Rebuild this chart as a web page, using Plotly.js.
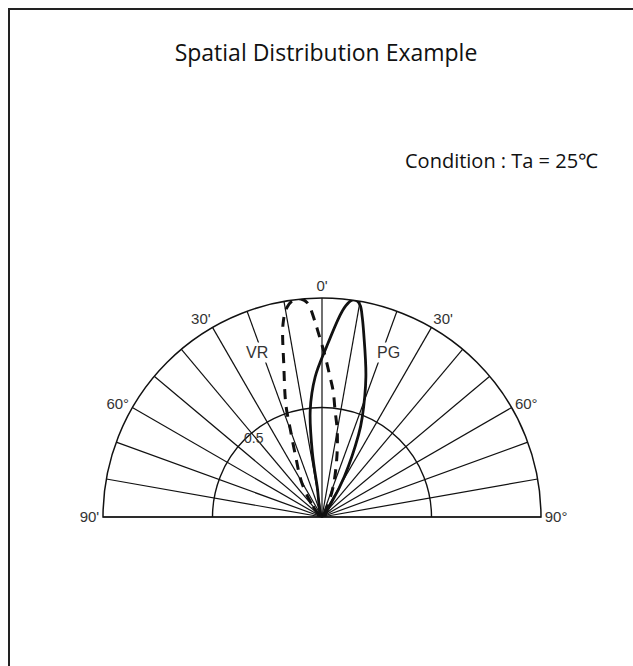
<!DOCTYPE html>
<html>
<head>
<meta charset="utf-8">
<script src="https://cdn.plot.ly/plotly-3.0.1.min.js"></script>
<style>
  html, body { margin: 0; padding: 0; background: #fff; }
  #wrap { position: relative; width: 633px; height: 666px; }
  #chart { position: absolute; left: 0; top: 0; width: 633px; height: 666px; }
  #frame { position: absolute; left: 8px; top: 8px; width: 640px; height: 680px;
           border-left: 2px solid #222; border-top: 2px solid #222; pointer-events: none; }
</style>
</head>
<body>
<div id="wrap"><div id="chart"></div><div id="frame"></div></div>
<script>
// Angular grid (degrees from vertical, negative = left)
const gridAngles = [-90, -80, -70, -60, -50, -40, -30, -20, -10, 0, 10, 20, 30, 40, 50, 60, 70, 80, 90];
const gridLabels = ["90'", "", "", "60°", "", "", "30'", "", "", "0'", "", "", "30'", "", "", "60°", "", "", "90°"];
const radialTicks = [0.5, 1.0];
const radialLabel = "0.5";

// VR (dashed) relative intensity vs angle
const vrTheta = [-45, -38, -30, -24, -20, -17.8, -14.2, -11.4, -9.5, -7.4, -5.5, -3.9, -2, -1.3, 1, 3.3, 5, 7, 10, 14, 20, 27, 35];
const vrR     = [0.0, 0.08, 0.19, 0.29, 0.42, 0.54, 0.71, 0.90, 0.97, 1.0, 1.0, 0.98, 0.89, 0.85, 0.74, 0.64, 0.58, 0.49, 0.40, 0.28, 0.15, 0.05, 0.0];

// PG (solid) relative intensity vs angle
const pgTheta = [-12, -9, -8.5, -6.3, -2.8, 1.6, 5, 6.4, 7.9, 9.2, 10.3, 11.4, 12.8, 17.4, 22, 24, 29, 33, 37];
const pgR     = [0.0, 0.14, 0.30, 0.49, 0.64, 0.78, 0.92, 0.97, 1.0, 1.0, 0.98, 0.93, 0.86, 0.67, 0.49, 0.41, 0.21, 0.08, 0.0];

const traces = [
  {
    type: 'scatterpolar', mode: 'lines', name: 'VR',
    theta: vrTheta, r: vrR,
    line: { color: '#111', width: 3, dash: '10px,8px', shape: 'spline' },
    showlegend: false, hoverinfo: 'skip'
  },
  {
    type: 'scatterpolar', mode: 'lines', name: 'PG',
    theta: pgTheta, r: pgR,
    line: { color: '#111', width: 2.8, shape: 'spline' },
    showlegend: false, hoverinfo: 'skip'
  }
];

const W = 633, H = 666;
const cx = 322, cy = 517, R = 219;
const labelFont = { family: 'Liberation Sans, Arial, sans-serif', size: 15, color: '#333' };

const layout = {
  width: W, height: H, autosize: false,
  margin: { l: 0, r: 0, t: 0, b: 0, pad: 0 },
  paper_bgcolor: '#fff',
  showlegend: false,
  title: {
    text: 'Spatial Distribution Example',
    font: { family: 'Open Sans, sans-serif', size: 23, color: '#111' },
    x: 326 / W, xanchor: 'center', xref: 'paper', y: 1 - 53 / H, yanchor: 'middle', yref: 'paper'
  },
  polar: {
    domain: { x: [(cx - R) / W, (cx + R) / W], y: [1 - cy / H, 1 - (cy - R) / H] },
    sector: [0, 180],
    bgcolor: '#fff',
    angularaxis: {
      rotation: 90, direction: 'clockwise',
      tickmode: 'array', tickvals: gridAngles, ticktext: gridLabels,
      ticks: '', showline: true, linecolor: '#111', linewidth: 1.5,
      showgrid: true, gridcolor: '#111', gridwidth: 1.2,
      tickfont: labelFont
    },
    radialaxis: {
      range: [0, 1],
      tickmode: 'array', tickvals: radialTicks, showticklabels: false,
      ticks: '', showline: false,
      showgrid: true, gridcolor: '#111', gridwidth: 1.4
    }
  },
  annotations: [
    { text: 'Condition : Ta = 25℃', xref: 'paper', yref: 'paper',
      x: 600 / W, y: 1 - 160 / H, xanchor: 'right', yanchor: 'middle', showarrow: false,
      font: { family: 'Open Sans, sans-serif', size: 20, color: '#111' } },
    { text: radialLabel, xref: 'paper', yref: 'paper',
      x: 254 / W, y: 1 - 438 / H, xanchor: 'center', yanchor: 'middle', showarrow: false,
      font: { family: 'Liberation Sans, Arial, sans-serif', size: 14, color: '#333' } },
    { text: 'VR', xref: 'paper', yref: 'paper',
      x: 257 / W, y: 1 - 352 / H, xanchor: 'center', yanchor: 'middle', showarrow: false,
      bgcolor: '#fff',
      font: { family: 'Liberation Sans, Arial, sans-serif', size: 16, color: '#333' } },
    { text: 'PG', xref: 'paper', yref: 'paper',
      x: 388 / W, y: 1 - 352 / H, xanchor: 'center', yanchor: 'middle', showarrow: false,
      bgcolor: '#fff',
      font: { family: 'Liberation Sans, Arial, sans-serif', size: 16, color: '#333' } }
  ]
};

Plotly.newPlot('chart', traces, layout, { staticPlot: true, displayModeBar: false });
</script>
</body>
</html>
